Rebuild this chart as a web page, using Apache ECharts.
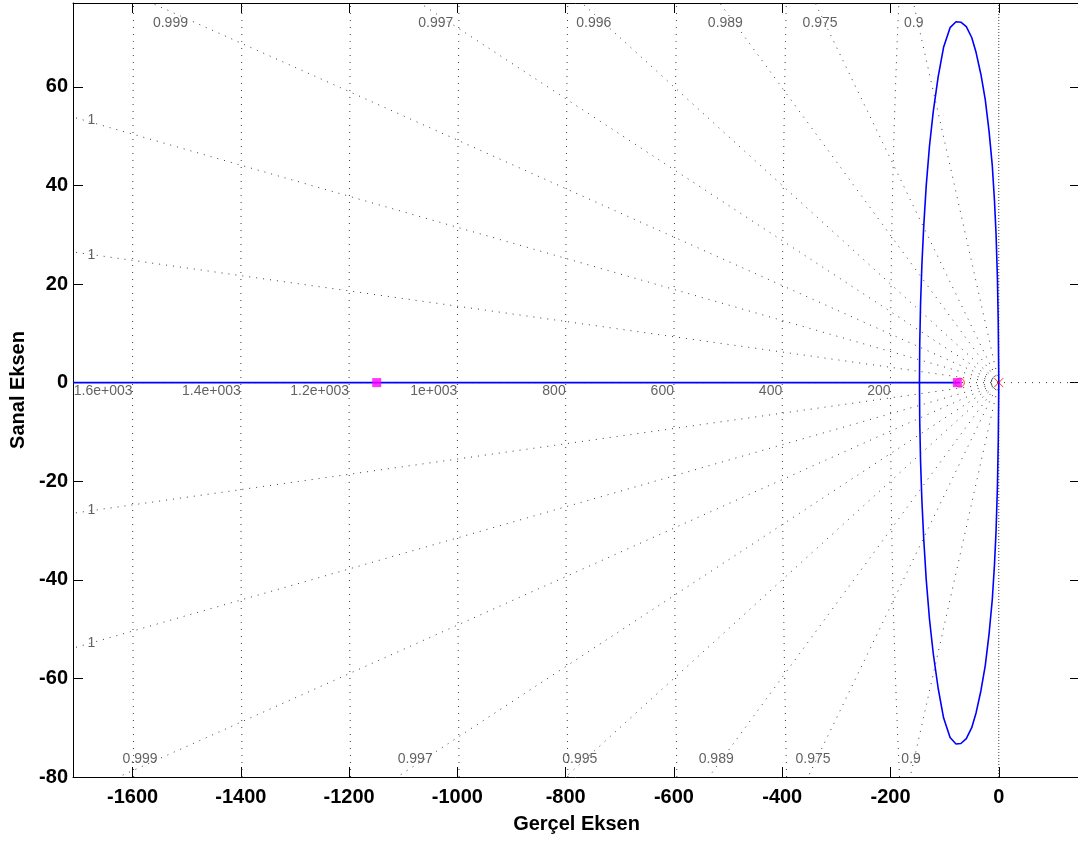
<!DOCTYPE html>
<html>
<head>
<meta charset="utf-8">
<script src="https://cdn.jsdelivr.net/npm/echarts@6/dist/echarts.min.js"></script>
<style>
  html, body { margin: 0; padding: 0; background: #fff; }
  #chart { width: 1078px; height: 843px; }
</style>
</head>
<body>
<div id="chart"></div>
<script>
// ---------- data ----------
const xLimits = [-1710, 150];
const yLimits = [-80, 77];
const xTicks = [-1600, -1400, -1200, -1000, -800, -600, -400, -200, 0];
const yTicks = [-80, -60, -40, -20, 0, 20, 40, 60];

// root locus branches (blue)
const locusUpper = [[-146.5,0],[-146,8],[-144.5,16],[-142,24],[-138.5,32],[-134,40],[-128,48],[-121,55],[-112,62],[-102,68],[-90,72],[-79,73.2],[-70,73.1],[-60,72.2],[-50,70],[-42,67],[-33,62.5],[-25,57.4],[-18,51],[-12,44],[-8,37],[-5,30],[-2.5,21],[-1,12],[0,0]];
const locusLower = [[-146.5,0],[-146,-8],[-144.5,-16],[-142,-24],[-138.5,-32],[-134,-40],[-128,-48],[-121,-55],[-112,-62],[-102,-68],[-90,-72],[-79,-73.3],[-70,-73.2],[-60,-72.2],[-50,-70],[-42,-67],[-33,-62.5],[-25,-57.4],[-18,-51],[-12,-44],[-8,-37],[-5,-30],[-2.5,-21],[-1,-12],[0,0]];
const realBranch = [[-1710,0],[-72,0]];

// markers
const openLoopPoles = [[0,0]];
const openLoopZeros = [[-72,0]];
const closedLoopPoles = [[-1149,0],[-76.5,0]];

// s-grid: damping-ratio rays (imag/real slope) and natural-frequency circles
const dampingSlopes = [0.0155, 0.0315, 0.0492, 0.0720, 0.1000, 0.1494, 0.2270, 0.4886];
const wnValues = [200, 400, 600, 800, 1000, 1200, 1400, 1600];
const wnLabels = ['200', '400', '600', '800', '1e+003', '1.2e+003', '1.4e+003', '1.6e+003'];

// damping labels: text and anchor (data coords)
const zetaTopText = ['0.999', '0.997', '0.996', '0.989', '0.975', '0.9'];
const zetaTopX = [-1530, -1040, -748, -505, -330, -157];
const zetaTopY = 73.0;
const zetaBottomText = ['0.999', '0.997', '0.995', '0.989', '0.975', '0.9'];
const zetaBottomX = [-1586, -1078, -774, -522, -343, -162];
const zetaBottomY = -76.3;
const zetaLeftText = ['1', '1', '1', '1'];
const zetaLeftY = [53.3, 25.9, -25.9, -52.9];
const zetaLeftX = -1676;

// ---------- build ----------
const gridColor = '#3c3c3c';
const dotted = { color: gridColor, width: 1, type: [1, 6] };
const series = [];

function clipRay(s, sign) {
  const lim = sign > 0 ? yLimits[1] : -yLimits[0];
  const yAtLeft = -xLimits[0] * s;
  if (yAtLeft <= lim) return [xLimits[0], sign * yAtLeft];
  return [-lim / s, sign * lim];
}
dampingSlopes.forEach(s => {
  [1, -1].forEach(sign => {
    series.push({ type: 'line', silent: true, symbol: 'none', animation: false,
      data: [[0, 0], clipRay(s, sign)], lineStyle: dotted, z: 1 });
  });
});
wnValues.forEach(w => {
  const pts = [];
  for (let i = 0; i <= 20; i++) {
    const y = yLimits[0] + (yLimits[1] - yLimits[0]) * i / 20;
    pts.push([-Math.sqrt(w * w - y * y), y]);
  }
  series.push({ type: 'line', silent: true, symbol: 'none', animation: false,
    data: pts, lineStyle: dotted, z: 1 });
});
// real axis and imaginary axis grid lines
series.push({ type: 'line', silent: true, symbol: 'none', data: [[xLimits[0], 0], [xLimits[1], 0]], lineStyle: dotted, z: 1 });
series.push({ type: 'line', silent: true, symbol: 'none', data: [[0, yLimits[0]], [0, yLimits[1]]], lineStyle: { color: gridColor, width: 1, type: [1, 2] }, z: 1 });

// grid labels
const smallFont = { fontFamily: 'Liberation Sans, Arial, sans-serif', fontSize: 14, color: '#3a3a3a' };
const zetaItems = [];
zetaTopText.forEach((t, i) => zetaItems.push({ value: [zetaTopX[i], zetaTopY], name: t }));
zetaBottomText.forEach((t, i) => zetaItems.push({ value: [zetaBottomX[i], zetaBottomY], name: t }));
zetaLeftText.forEach((t, i) => zetaItems.push({ value: [zetaLeftX, zetaLeftY[i]], name: t }));
series.push({ type: 'scatter', silent: true, symbolSize: 0, data: zetaItems, z: 2,
  label: Object.assign({ show: true, position: 'inside', formatter: p => p.name }, smallFont) });
series.push({ type: 'scatter', silent: true, symbolSize: 0, z: 2,
  data: wnValues.map((w, i) => ({ value: [-w, 0], name: wnLabels[i] })),
  label: Object.assign({ show: true, position: 'left', distance: 0, offset: [0, 9], formatter: p => p.name }, smallFont) });

// locus
const blue = { color: '#0000ff', width: 1.6 };
[locusUpper, locusLower, realBranch].forEach(d => {
  series.push({ type: 'line', silent: true, symbol: 'none', data: d, lineStyle: blue, z: 3 });
});
// markers
series.push({ type: 'scatter', silent: true, data: openLoopZeros, symbol: 'circle', symbolSize: 9,
  itemStyle: { color: 'none', borderColor: '#ff0000', borderWidth: 1 }, z: 4 });
series.push({ type: 'scatter', silent: true, data: closedLoopPoles, symbol: 'rect', symbolSize: 9,
  itemStyle: { color: '#ff00ff' }, z: 5 });
series.push({ type: 'scatter', silent: true, data: openLoopPoles, symbol: 'path://M0,0L10,10M10,0L0,10', symbolSize: 9,
  itemStyle: { color: 'none', borderColor: '#ff0000', borderWidth: 1 }, z: 6 });

const axisFont = { fontFamily: 'Liberation Sans, Arial, sans-serif', fontSize: 20, fontWeight: 'bold', color: '#000' };
const blackLine = { color: '#000', width: 1 };

const option = {
  animation: false,
  backgroundColor: '#fff',
  grid: { left: 73, top: 3, right: -2, bottom: 66, containLabel: false, outerBoundsMode: 'none' },
  xAxis: [
    { type: 'value', position: 'bottom', min: xLimits[0], max: xLimits[1],
      axisLine: { show: true, onZero: false, lineStyle: blackLine },
      axisTick: { show: true, inside: true, length: 10, customValues: xTicks, lineStyle: blackLine },
      axisLabel: Object.assign({ show: true, customValues: xTicks, margin: 10, formatter: v => String(v) }, axisFont),
      splitLine: { show: false },
      name: 'Gerçel Eksen', nameLocation: 'middle', nameGap: 37, nameTextStyle: axisFont },
    { type: 'value', position: 'top', min: xLimits[0], max: xLimits[1],
      axisLine: { show: true, onZero: false, lineStyle: blackLine },
      axisTick: { show: true, inside: true, length: 10, customValues: xTicks, lineStyle: blackLine },
      axisLabel: { show: false }, splitLine: { show: false } }
  ],
  yAxis: [
    { type: 'value', position: 'left', min: yLimits[0], max: yLimits[1],
      axisLine: { show: true, onZero: false, lineStyle: blackLine },
      axisTick: { show: true, inside: true, length: 10, customValues: yTicks, lineStyle: blackLine },
      axisLabel: Object.assign({ show: true, customValues: yTicks, margin: 5, formatter: v => String(v) }, axisFont),
      splitLine: { show: false },
      name: 'Sanal Eksen', nameLocation: 'middle', nameGap: 39, nameTextStyle: axisFont },
    { type: 'value', position: 'right', min: yLimits[0], max: yLimits[1],
      axisLine: { show: true, onZero: false, lineStyle: blackLine },
      axisTick: { show: true, inside: true, length: 10, customValues: yTicks, lineStyle: blackLine },
      axisLabel: { show: false }, splitLine: { show: false } }
  ],
  series: series
};

const chart = echarts.init(document.getElementById('chart'), null, { renderer: 'canvas' });
chart.setOption(option);
</script>
</body>
</html>
